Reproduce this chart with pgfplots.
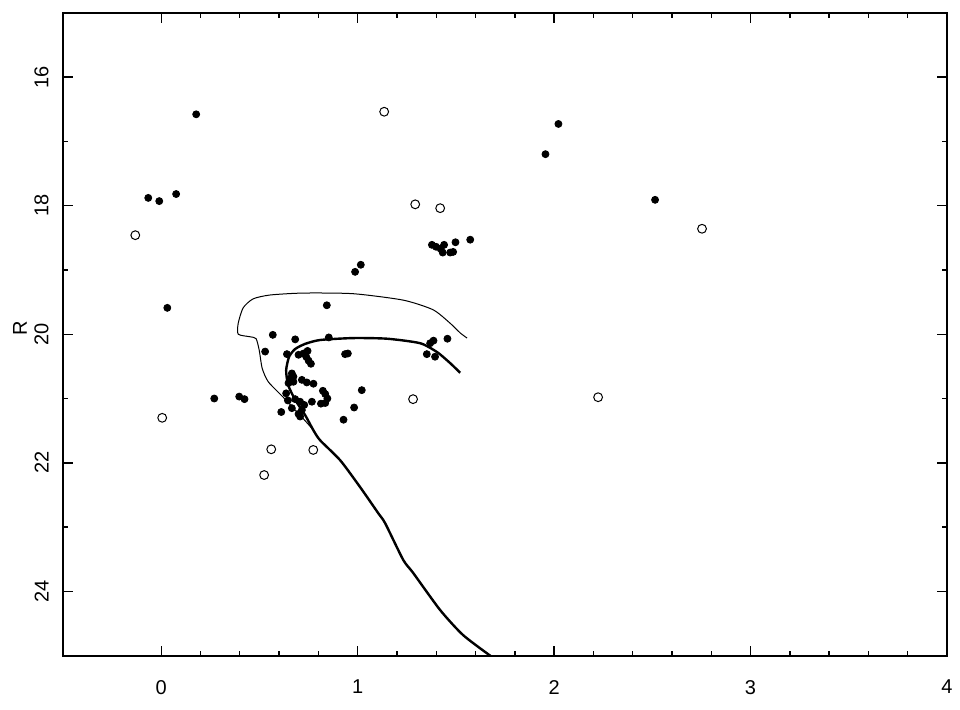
\documentclass[border=0pt]{standalone}
\usepackage{fontspec}
\setmainfont{Liberation Sans}
\usepackage{pgfplots}
\pgfplotsset{compat=1.18}
\begin{document}
\begin{tikzpicture}
\begin{axis}[
  scale only axis,
  width=442pt, height=321.5pt,
  xmin=-0.5, xmax=4, ymin=15, ymax=25,
  y dir=reverse,
  xtick={0,1,2,3,4}, ytick={16,18,20,22,24},
  minor x tick num=4, minor y tick num=1,
  major tick length=5pt, minor tick length=2.5pt,
  tick style={line width=0.7pt, black},
  axis line style={line width=1.1pt},
  /pgf/number format/assume math mode=true,
  tick label style={font=\fontsize{10}{12}\selectfont},
  xticklabel style={anchor=north, inner sep=0pt, yshift=-12pt},
  yticklabel style={rotate=90, anchor=south, inner xsep=0pt, inner ysep=7pt},
  ylabel={R},
  ylabel style={at={(axis description cs:-0.0486,0.51)}, anchor=center, rotate=0, font=\fontsize{10}{12}\selectfont},
]
% thin isochrone
\addplot[black, line width=0.5pt, smooth, tension=0.4] coordinates {
(1.684,25.02)(1.537,24.68)(1.420,24.29)(1.282,23.71)(1.232,23.51)(1.140,22.94)(1.104,22.78)(1.013,22.38)(0.911,21.96)(0.809,21.65)(0.774,21.49)
(0.707,21.26)(0.621,20.98)(0.545,20.74)(0.514,20.53)(0.499,20.25)(0.483,20.07)(0.453,20.04)(0.392,20.00)(0.392,19.83)(0.417,19.59)(0.468,19.45)(0.555,19.39)(0.723,19.36)(0.977,19.37)(1.232,19.47)(1.384,19.62)(1.471,19.83)(1.522,19.98)(1.557,20.06)
};
% thick isochrone
\addplot[black, line width=1.2pt, smooth, tension=0.4] coordinates {
(1.684,25.02)(1.537,24.68)(1.420,24.29)(1.282,23.71)(1.232,23.51)(1.140,22.94)(1.104,22.78)(1.013,22.38)(0.911,21.96)(0.809,21.65)(0.774,21.49)
(0.733,21.26)(0.682,21.02)(0.646,20.79)(0.636,20.56)(0.651,20.35)(0.682,20.23)(0.733,20.15)(0.809,20.09)(0.977,20.06)(1.150,20.07)(1.318,20.14)(1.405,20.28)(1.471,20.45)(1.522,20.60)
};
% filled points
\addplot[only marks, mark=*, mark size=1.75pt, black] coordinates {
(0.178,16.58)(-0.066,17.88)(-0.010,17.93)(0.076,17.82)(0.031,19.59)
(2.022,16.73)(1.956,17.20)(2.514,17.91)
(0.987,19.03)(1.016,18.92)
(1.378,18.61)(1.399,18.64)(1.422,18.67)(1.440,18.61)(1.433,18.73)(1.471,18.73)(1.486,18.72)(1.498,18.57)(1.573,18.53)
(0.843,19.55)
(0.568,20.01)(0.682,20.08)(0.853,20.05)(0.529,20.27)(0.640,20.31)(0.699,20.32)(0.724,20.30)(0.745,20.26)(0.738,20.35)(0.750,20.41)(0.762,20.46)
(0.936,20.31)(0.950,20.30)
(0.665,20.61)(0.656,20.69)(0.673,20.74)(0.648,20.76)(0.673,20.66)(0.716,20.71)(0.741,20.75)(0.775,20.77)
(1.021,20.87)(0.823,20.88)(0.835,20.93)(0.846,21.00)(0.835,21.07)(0.813,21.08)
(0.636,20.92)(0.645,21.03)(0.682,21.01)(0.707,21.05)(0.728,21.10)(0.767,21.05)
(0.665,21.15)(0.716,21.18)(0.699,21.24)(0.707,21.28)(0.611,21.21)(0.982,21.14)(0.928,21.33)
(1.352,20.31)(1.394,20.35)(1.369,20.14)(1.386,20.10)(1.457,20.07)
(0.270,21.00)(0.397,20.97)(0.424,21.01)
};
% open points
\addplot[only marks, mark=o, mark size=2.2pt, mark options={line width=0.5pt}, black] coordinates {
(-0.132,18.46)(0.005,21.30)(1.135,16.54)(1.293,17.98)(1.420,18.04)(2.753,18.36)(2.224,20.98)(1.282,21.01)(0.560,21.79)(0.774,21.80)(0.524,22.19)
};
\end{axis}
\pgfresetboundingbox
\path[use as bounding box] (-31.5pt,-26.65pt) rectangle (448.5pt,327.85pt);
\end{tikzpicture}
\end{document}
